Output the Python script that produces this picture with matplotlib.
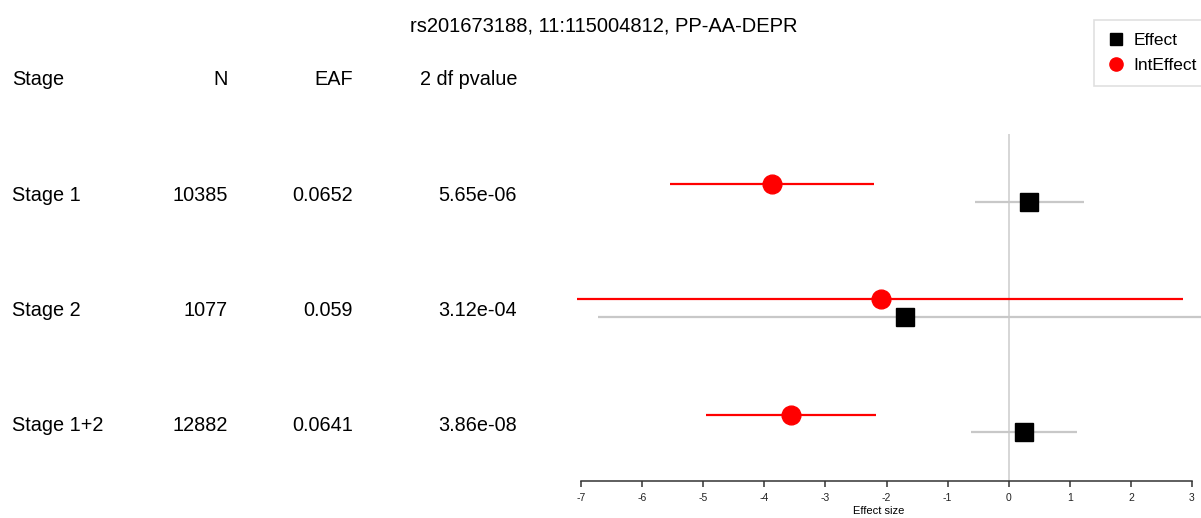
import matplotlib
matplotlib.use('Agg')
import matplotlib.pyplot as plt
import matplotlib.transforms as mtransforms
from matplotlib.lines import Line2D

plt.rcParams['font.family'] = ['Liberation Sans', 'DejaVu Sans']
plt.rcParams['axes.unicode_minus'] = False

title = 'rs201673188, 11:115004812, PP-AA-DEPR'
stages = ['Stage 1', 'Stage 2', 'Stage 1+2']
n_vals = ['10385', '1077', '12882']
eaf_vals = ['0.0652', '0.059', '0.0641']
pvals = ['5.65e-06', '3.12e-04', '3.86e-08']

# effect sizes and confidence limits
eff = [0.33, -1.69, 0.25]
eff_lo = [-0.55, -6.72, -0.61]
eff_hi = [1.23, 3.40, 1.12]
int_eff = [-3.87, -2.09, -3.57]
int_lo = [-5.54, -7.06, -4.95]
int_hi = [-2.20, 2.86, -2.18]

rows = [3, 2, 1]
off = 0.076

fig = plt.figure(figsize=(12.01, 5.18), dpi=100)
ax = fig.add_axes([556.6 / 1201, (518 - 480.7) / 518, 1 - 556.6 / 1201, 480.7 / 518])
ax.set_xlim(-7.4, 3.147)
ax.set_ylim(0.503, 4.675)
ax.patch.set_visible(False)

# zero reference line
ax.vlines(0, 0.503, 3.512, color='#d0d0d0', lw=1.2, zorder=1)

for i, y in enumerate(rows):
    ax.hlines(y - off, eff_lo[i], eff_hi[i], color='#c8c8c8', lw=1.6, zorder=2)
    ax.plot(eff[i], y - off, marker='s', ms=13.5, color='black', ls='none', zorder=4)
    ax.hlines(y + off, int_lo[i], int_hi[i], color='red', lw=1.6, zorder=3)
    ax.plot(int_eff[i], y + off, marker='o', ms=13.5, color='red', ls='none', zorder=5)

for s in ['top', 'right', 'left']:
    ax.spines[s].set_visible(False)
ax.spines['bottom'].set_bounds(-7, 3)
ax.spines['bottom'].set_color('#333333')
ax.spines['bottom'].set_linewidth(1.1)
ax.set_yticks([])
ax.set_xticks(range(-7, 4))
ax.tick_params(axis='x', direction='out', length=4.5, width=1.1, color='#333333',
               labelsize=7.5, pad=4.5, labelcolor='#222222')
ax.set_xlabel('Effect size', fontsize=8, labelpad=2)

# table columns
tr = mtransforms.blended_transform_factory(fig.transFigure, ax.transData)
head_y = 3.988
row_shift = -0.022
fs = 14.3
fig.text(12 / 1201, head_y, 'Stage', transform=tr, fontsize=fs, va='center', ha='left')
fig.text(228 / 1201, head_y, 'N', transform=tr, fontsize=fs, va='center', ha='right')
fig.text(353 / 1201, head_y, 'EAF', transform=tr, fontsize=fs, va='center', ha='right')
fig.text(517 / 1201, head_y, '2 df pvalue', transform=tr, fontsize=fs, va='center', ha='right')
for i, y in enumerate(rows):
    yt = y + row_shift
    fig.text(12 / 1201, yt, stages[i], transform=tr, fontsize=fs, va='center', ha='left')
    fig.text(228 / 1201, yt, n_vals[i], transform=tr, fontsize=fs, va='center', ha='right')
    fig.text(353 / 1201, yt, eaf_vals[i], transform=tr, fontsize=fs, va='center', ha='right')
    fig.text(517 / 1201, yt, pvals[i], transform=tr, fontsize=fs, va='center', ha='right')

fig.text(604 / 1201, 1 - 26 / 518, title, fontsize=14.5, ha='center', va='center')

handles = [Line2D([], [], marker='s', ms=9, color='black', ls='none'),
           Line2D([], [], marker='o', ms=9.5, color='red', ls='none')]
leg = fig.legend(handles, ['Effect', 'IntEffect'], loc='upper left',
                 bbox_to_anchor=(1094 / 1201, 1 - 20 / 518), fontsize=12.5,
                 frameon=True, fancybox=False, borderpad=0.72, labelspacing=0.6,
                 handlelength=1.15, handletextpad=0.4, borderaxespad=0)
leg.get_frame().set_edgecolor('#d8d8d8')
leg.get_frame().set_linewidth(1.2)

fig.savefig('out.png', dpi=100)
